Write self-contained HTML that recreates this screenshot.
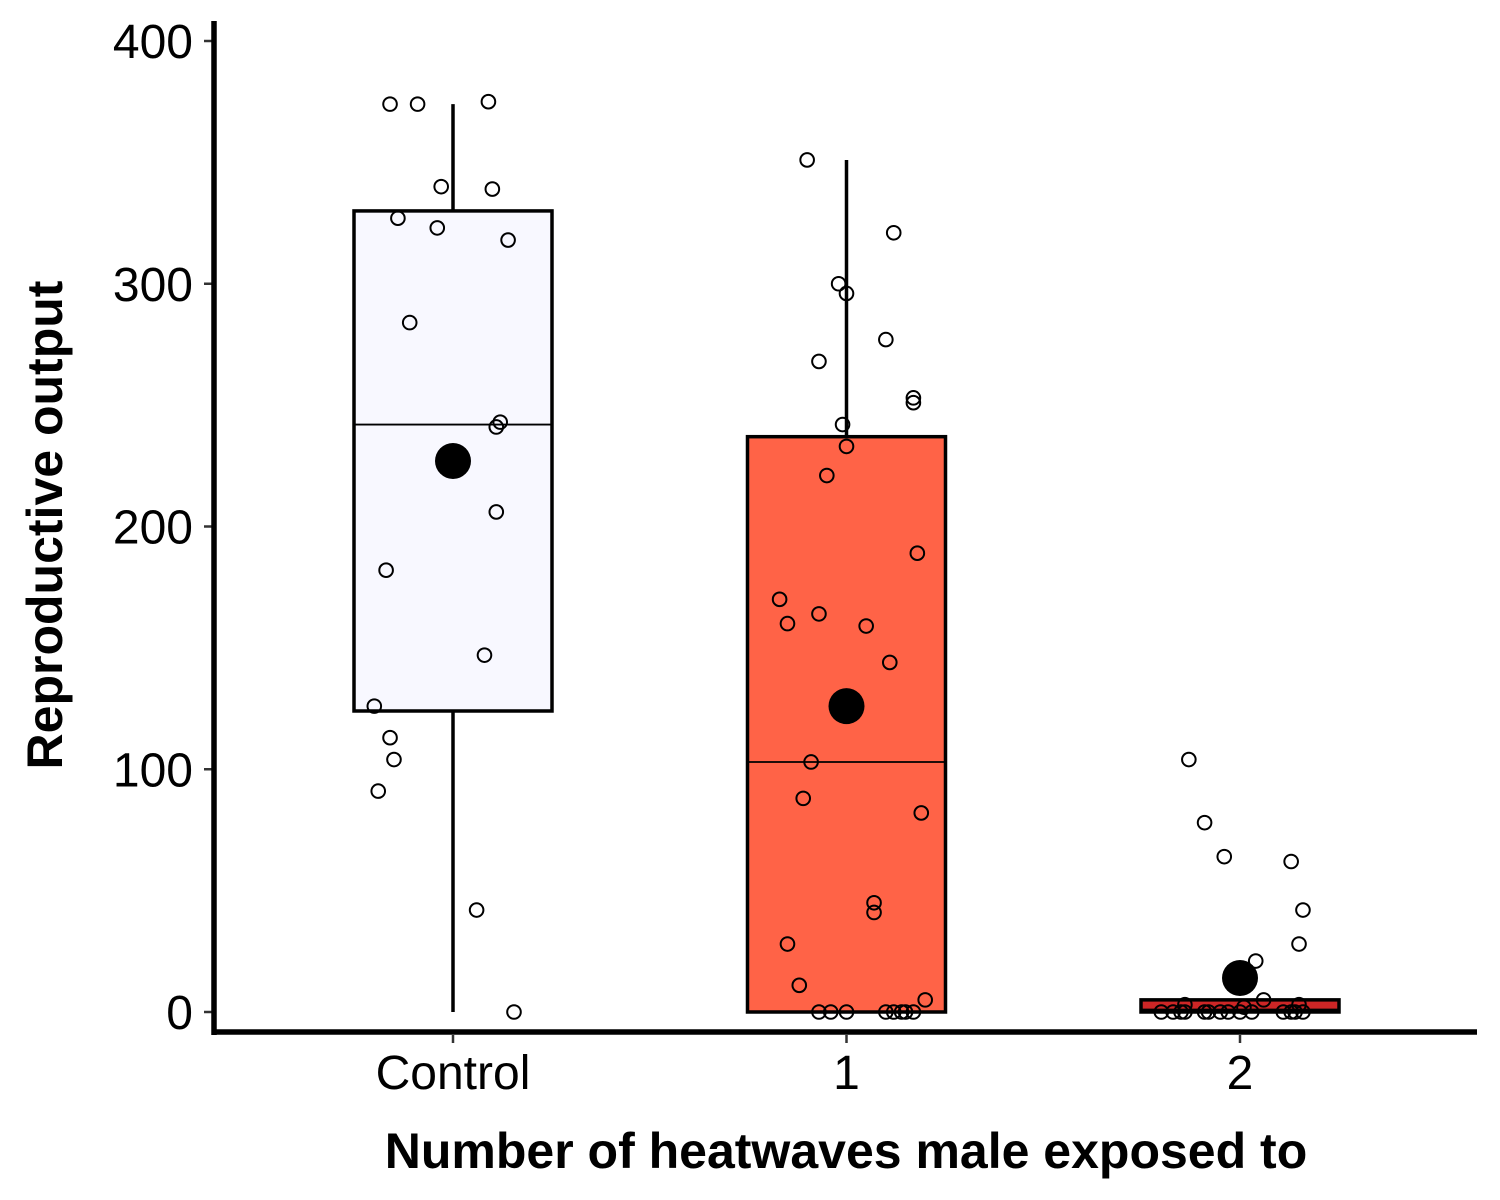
<!DOCTYPE html>
<html><head><meta charset="utf-8"><style>
body{margin:0;background:#fff}
svg{display:block;font-family:"Liberation Sans",Arial,sans-serif}
</style></head><body>
<svg id="chart" width="1500" height="1200" viewBox="0 0 1500 1200" xmlns="http://www.w3.org/2000/svg">
<g id="boxes"></g>
<g id="points"></g>
<g id="means"></g>
<g id="axes"></g>
<text x="846" y="1168" font-size="50" font-weight="bold" text-anchor="middle">Number of heatwaves male exposed to</text>
<text transform="translate(62,525) rotate(-90)" font-size="50" font-weight="bold" text-anchor="middle">Reproductive output</text>
</svg>
<script>
const categories = ["Control", "1", "2"];
const fills = ["#F8F8FF", "#FF6347", "#CD2626"];
const q1 = [124, 0, 0];
const median = [242, 103, 1];
const q3 = [330, 237, 5];
const whiskerLow = [0, 0, 0];
const whiskerHigh = [374, 351, 5];
const means = [227, 126, 14];
const yTicks = [0, 100, 200, 300, 400];
const ctrlVals = [374,374,375,340,339,327,323,318,284,243,241,206,182,147,126,113,104,91,42,0];
const ctrlJit = [-0.16,-0.09,0.09,-0.03,0.1,-0.14,-0.04,0.14,-0.11,0.12,0.11,0.11,-0.17,0.08,-0.2,-0.16,-0.15,-0.19,0.06,0.155];
const g1Vals = [351,321,300,296,277,268,253,251,242,233,221,189,170,160,164,159,144,103,88,82,45,41,28,11,5,0,0,0,0,0,0,0,0];
const g1Jit = [-0.1,0.12,-0.02,0,0.1,-0.07,0.17,0.17,-0.01,0,-0.05,0.18,-0.17,-0.15,-0.07,0.05,0.11,-0.09,-0.11,0.19,0.07,0.07,-0.15,-0.12,0.2,-0.07,-0.04,0,0.1,0.12,0.14,0.15,0.17];
const g2Vals = [104,78,64,62,42,28,21,5,3,3,2,0,0,0,0,0,0,0,0,0,0,0,0,0,0];
const g2Jit = [-0.13,-0.09,-0.04,0.13,0.16,0.15,0.04,0.06,-0.14,0.15,0.01,-0.2,-0.17,-0.15,-0.14,-0.09,-0.08,-0.05,-0.03,0,0.03,0.11,0.13,0.14,0.16];
const allVals = [ctrlVals, g1Vals, g2Vals];
const allJit = [ctrlJit, g1Jit, g2Jit];

const NS = "http://www.w3.org/2000/svg";
function x(i){ return 453 + i*393.5; }
function y(v){ return 1012 - v*2.4275; }
const step = 393.5;
function mk(tag, attrs, parent){ const e=document.createElementNS(NS,tag); for(const k in attrs) e.setAttribute(k,attrs[k]); parent.appendChild(e); return e; }
const gB=document.getElementById('boxes'), gP=document.getElementById('points'), gM=document.getElementById('means'), gA=document.getElementById('axes');
const hw = 99;
categories.forEach((c,i)=>{
  const wl = mk('line',{x1:x(i),x2:x(i),y1:y(whiskerLow[i]),y2:y(q1[i]),stroke:'#000','stroke-width':3.5},gB);
  
  
  const wh = mk('line',{x1:x(i),x2:x(i),y1:y(q3[i]),y2:y(whiskerHigh[i]),stroke:'#000','stroke-width':3.5},gB);
  
  
  const r = mk('rect',{x:x(i)-hw,y:y(q3[i]),width:hw*2,height:y(q1[i])-y(q3[i]),fill:fills[i],stroke:'#000','stroke-width':3.5},gB);
  
  
  const m = mk('line',{x1:x(i)-hw,x2:x(i)+hw,y1:y(median[i]),y2:y(median[i]),stroke:'#000','stroke-width':1.8},gB);
  
  
  allVals[i].forEach((v,j)=>{
    const p = mk('circle',{cx:x(i)+allJit[i][j]*step,cy:y(v),r:6.8,fill:'none',stroke:'#000','stroke-width':2},gP);
    
    
  });
  const mc = mk('circle',{cx:x(i),cy:y(means[i]),r:18,fill:'#000'},gM);
  
  
  const tk = mk('line',{x1:x(i),x2:x(i),y1:1035,y2:1043,stroke:'#333','stroke-width':2.5},gA);
  
  
  const tl = mk('text',{x:x(i),y:1089,'font-size':48,'text-anchor':'middle',fill:'#000'},gA);
  tl.textContent=c;
  
  
});
yTicks.forEach(t=>{
  const tk = mk('line',{x1:204,x2:212,y1:y(t),y2:y(t),stroke:'#333','stroke-width':2.5},gA);
  
  
  const tl = mk('text',{x:193,y:y(t)+17,'font-size':48,'text-anchor':'end',fill:'#000'},gA);
  tl.textContent=t;
  
  
});
const ya = mk('line',{x1:214,x2:214,y1:21,y2:1035,stroke:'#000','stroke-width':5.5},gA);


const xa = mk('line',{x1:212,x2:1477,y1:1032,y2:1032,stroke:'#000','stroke-width':5.5},gA);


</script>
</body></html>
